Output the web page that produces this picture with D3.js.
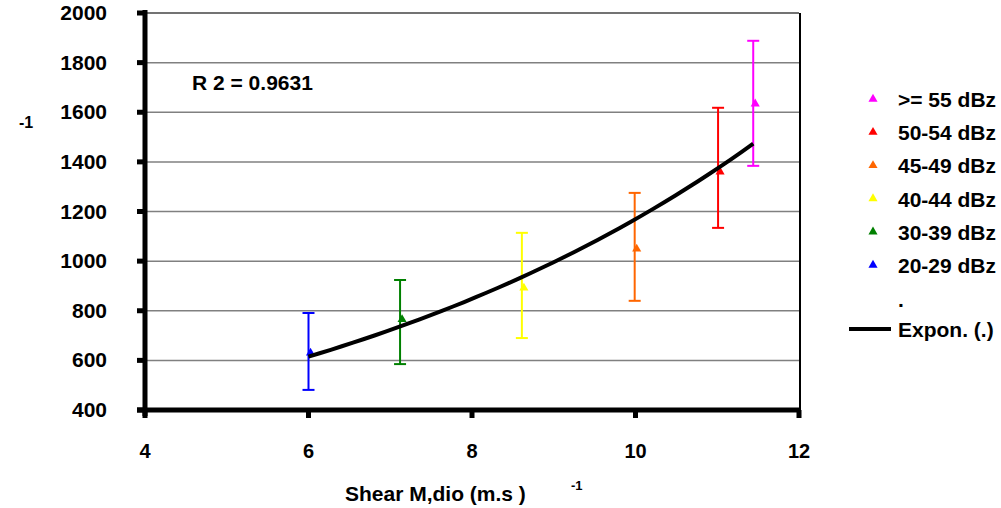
<!DOCTYPE html>
<html lang="en">
<head>
    <meta charset="UTF-8">
    <title>Shear vs reflectivity</title>
    <script src="https://d3js.org/d3.v7.min.js"></script>
    <style>
        body { margin: 0; background: #fff; }
        svg text { font-family: "Liberation Sans", Arial, sans-serif; font-weight: bold; fill: #000; }
        .grid line { stroke: #808080; stroke-width: 1.5; }
    </style>
</head>
<body>
    <svg id="viz" width="1001" height="508"></svg>

    <script>
        // Data
        const classes = [">= 55 dBz", "50-54 dBz", "45-49 dBz", "40-44 dBz", "30-39 dBz", "20-29 dBz"];
        const colors  = ["#ff00ff", "#ff0000", "#ff6600", "#ffff00", "#008000", "#0000ff"];
        const shear   = [11.44, 11.01, 9.99, 8.61, 7.12, 6.0];
        const means   = [1634, 1360, 1049, 892, 765, 630];
        const upper   = [1888, 1618, 1275, 1114, 924, 791];
        const lower   = [1384, 1134, 840, 690, 585, 481];
        const yTicks  = [400, 600, 800, 1000, 1200, 1400, 1600, 1800, 2000];
        const xTicks  = [4, 6, 8, 10, 12];

        const svg = d3.select("#viz");

        const x = d3.scaleLinear().domain([4, 12]).range([145, 799]);
        const y = d3.scaleLinear().domain([400, 2000]).range([410, 13]);

        // gridlines
        svg.append("g").attr("class", "grid")
            .selectAll("line")
            .data(yTicks.slice(1))
            .enter().append("line")
            .attr("x1", x(4)).attr("x2", x(12))
            .attr("y1", d => y(d)).attr("y2", d => y(d))
            .style("stroke", d => d === 2000 ? "#444" : null);

        // right border
        svg.append("line")
            .attr("x1", x(12) + 1).attr("x2", x(12) + 1)
            .attr("y1", y(2000)).attr("y2", y(400))
            .attr("stroke", "#000").attr("stroke-width", 2);

        // exponential trend fitted to the class means (least squares on ln y)
        const lx = d3.mean(shear), ly = d3.mean(means.map(Math.log));
        let sxy = 0, sxx = 0;
        shear.forEach((v, i) => {
            sxy += (v - lx) * (Math.log(means[i]) - ly);
            sxx += (v - lx) * (v - lx);
        });
        const b = sxy / sxx, a = Math.exp(ly - b * lx);
        const xs = d3.range(0, 41).map(i => d3.min(shear) + i * (d3.max(shear) - d3.min(shear)) / 40);
        const line = d3.line().x(d => x(d)).y(d => y(a * Math.exp(b * d)));

        // error bars
        const bars = svg.append("g").selectAll("g")
            .data(classes)
            .enter().append("g")
            .attr("stroke", (d, i) => colors[i])
            .attr("stroke-width", 2);
        bars.append("line")
            .attr("x1", (d, i) => x(shear[i])).attr("x2", (d, i) => x(shear[i]))
            .attr("y1", (d, i) => y(upper[i])).attr("y2", (d, i) => y(lower[i]));
        bars.append("line")
            .attr("x1", (d, i) => x(shear[i]) - 6).attr("x2", (d, i) => x(shear[i]) + 6)
            .attr("y1", (d, i) => y(upper[i])).attr("y2", (d, i) => y(upper[i]));
        bars.append("line")
            .attr("x1", (d, i) => x(shear[i]) - 6).attr("x2", (d, i) => x(shear[i]) + 6)
            .attr("y1", (d, i) => y(lower[i])).attr("y2", (d, i) => y(lower[i]));

        // markers
        const tri = d3.symbol().type(d3.symbolTriangle).size(36);
        svg.append("g").selectAll("path")
            .data(classes)
            .enter().append("path")
            .attr("d", tri)
            .attr("transform", (d, i) => `translate(${x(shear[i]) + 2},${y(means[i])})`)
            .attr("fill", (d, i) => colors[i]);

        svg.append("path")
            .datum(xs)
            .attr("d", line)
            .attr("fill", "none")
            .attr("stroke", "#000")
            .attr("stroke-width", 4);

        // axes
        svg.append("line")
            .attr("x1", 145).attr("x2", 145).attr("y1", y(2000) - 3).attr("y2", y(400) + 6)
            .attr("stroke", "#000").attr("stroke-width", 5);
        svg.append("line")
            .attr("x1", 137).attr("x2", x(12) + 2).attr("y1", y(400)).attr("y2", y(400))
            .attr("stroke", "#000").attr("stroke-width", 5);
        svg.append("g").selectAll("rect")
            .data(yTicks)
            .enter().append("rect")
            .attr("x", 137).attr("y", d => y(d) - 2.5).attr("width", 8).attr("height", 5)
            .attr("fill", "#000");
        svg.append("g").selectAll("rect")
            .data(xTicks)
            .enter().append("rect")
            .attr("x", d => x(d) - 2.5).attr("y", y(400)).attr("width", 5).attr("height", 8)
            .attr("fill", "#000");

        // tick labels
        svg.append("g").selectAll("text")
            .data(yTicks)
            .enter().append("text")
            .attr("x", 107).attr("y", d => y(d) + 7)
            .attr("text-anchor", "end")
            .style("font-size", "21px")
            .text(d => d);
        svg.append("g").selectAll("text")
            .data(xTicks)
            .enter().append("text")
            .attr("x", d => x(d)).attr("y", 458)
            .attr("text-anchor", "middle")
            .style("font-size", "20px")
            .text(d => d);

        // titles
        svg.append("text").attr("x", 19).attr("y", 128).style("font-size", "16px").text("-1");
        svg.append("text").attr("x", 345).attr("y", 501).style("font-size", "21px").text("Shear M,dio (m.s )");
        svg.append("text").attr("x", 571).attr("y", 490).style("font-size", "13px").text("-1");
        svg.append("text").attr("x", 192).attr("y", 90).style("font-size", "21px").text("R 2 = 0.9631");

        // legend
        const legend = svg.append("g").selectAll("g")
            .data(classes)
            .enter().append("g")
            .attr("transform", (d, i) => `translate(0,${99 + i * 33.2})`);
        legend.append("path")
            .attr("d", tri)
            .attr("transform", "translate(873,0)")
            .attr("fill", (d, i) => colors[i]);
        legend.append("text")
            .attr("x", 898).attr("y", 8)
            .style("font-size", "21px")
            .text(d => d);
        svg.append("text").attr("x", 898).attr("y", 307).style("font-size", "21px").text(".");
        svg.append("line")
            .attr("x1", 849).attr("x2", 891).attr("y1", 329).attr("y2", 329)
            .attr("stroke", "#000").attr("stroke-width", 4);
        svg.append("text").attr("x", 898).attr("y", 337).style("font-size", "21px").text("Expon. (.)");
    </script>
</body>
</html>
